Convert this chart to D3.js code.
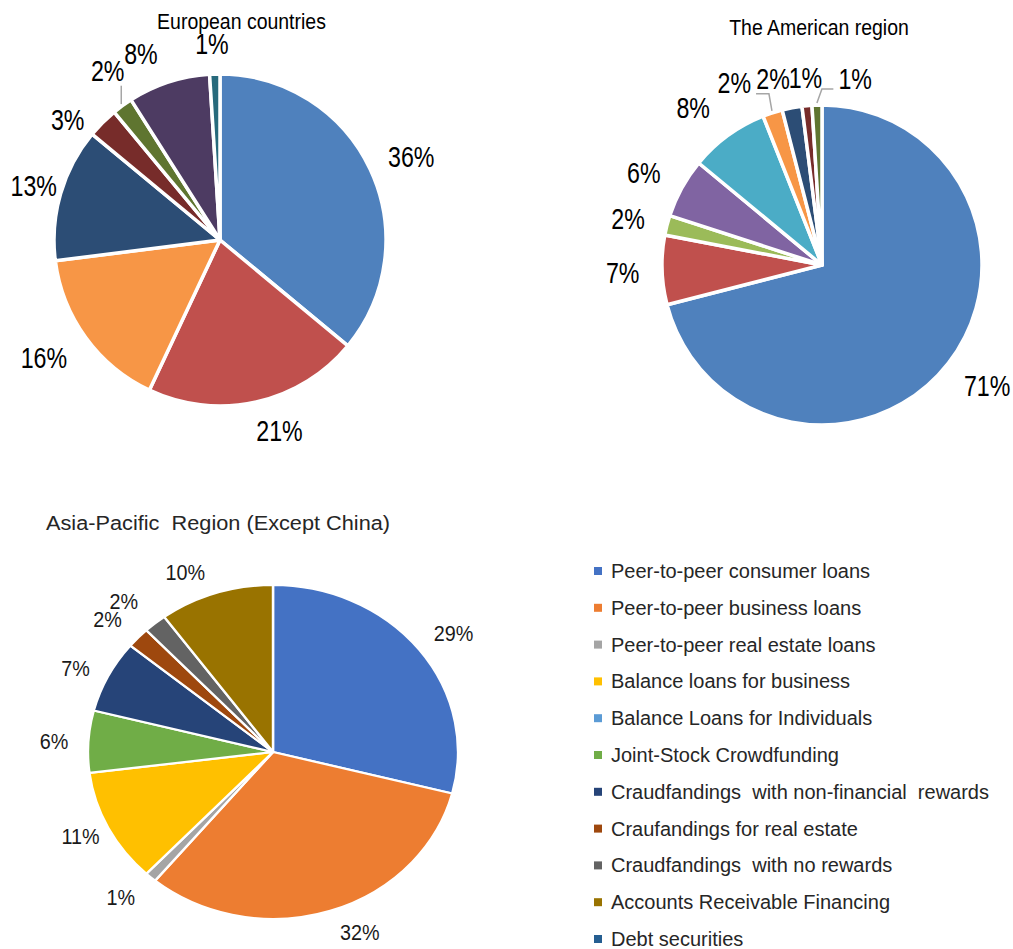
<!DOCTYPE html>
<html>
<head>
<meta charset="utf-8">
<script src="https://cdn.jsdelivr.net/npm/d3@7"></script>
<style>
  html, body { margin: 0; padding: 0; background: #fff; }
  svg { display: block; font-family: "Liberation Sans", Arial, sans-serif; }
</style>
</head>
<body>
<svg id="chart" width="1013" height="949"></svg>
<script>
// ---------------- DATA ----------------
const euTitle = "European countries";
const euValues = [36, 21, 16, 13, 3, 2, 8, 1];
const euColors = ["#4F81BD", "#C0504D", "#F79646", "#2C4D75", "#772C2A", "#5F7530", "#4D3B62", "#276A7C"];

const amTitle = "The American region";
const amValues = [71, 7, 2, 6, 8, 2, 2, 1, 1];
const amColors = ["#4F81BD", "#C0504D", "#9BBB59", "#8064A2", "#4BACC6", "#F79646", "#2C4D75", "#772C2A", "#5F7530"];

const apTitle = "Asia-Pacific  Region (Except China)";
const categories = [
  "Peer-to-peer consumer loans",
  "Peer-to-peer business loans",
  "Peer-to-peer real estate loans",
  "Balance loans for business",
  "Balance Loans for Individuals",
  "Joint-Stock Crowdfunding",
  "Craudfandings  with non-financial  rewards",
  "Craufandings for real estate",
  "Craudfandings  with no rewards",
  "Accounts Receivable Financing",
  "Debt securities"
];
const apValues = [29, 32, 1, 11, 0, 6, 7, 2, 2, 10, 0];
const apColors = ["#4472C4", "#ED7D31", "#A5A5A5", "#FFC000", "#5B9BD5", "#70AD47", "#264478", "#9E480E", "#636363", "#997300", "#255E91"];

// label nudges (manual placement tweaks, like the original chart's dragged labels)
const euNudge = [[11,-4],[16,8.5],[-15,7.5],[5,-2],[-16,12],[1,-18],[-19.5,-8],[-2,-9]];
const amNudge = [[12.5,10],[-12.6,2],[-13,-1],[-14.6,-5.3],[-19,-10.6],[-30,-10],[-14,-8],[1,-7],[39,-5]];
const apNudge = [[10,-5],[20,4],[-13,6],[0,0],[0,0],[-9,0.6],[-10,0],[-12,-6],[-15,-8],[-21,-4],[0,0]];

// ---------------- DRAW ----------------
const svg = d3.select("#chart");
const pie = d3.pie().sort(null).value(d => d);

function drawPie(opts) {
  const { values, colors, nudge, cx, cy, r, sx, stroke, fontSize, labelScale, pad, leaders } = opts;
  const g = svg.append("g");
  const arcs = pie(values);
  const arc = d3.arc().innerRadius(0).outerRadius(r);

  g.append("g")
    .attr("transform", `translate(${cx},${cy}) scale(${sx},1)`)
    .selectAll("path")
    .data(arcs.filter(a => a.value > 0))
    .join("path")
    .attr("d", arc)
    .attr("fill", d => colors[d.index])
    .attr("stroke", "#fff")
    .attr("stroke-width", stroke)
    .attr("stroke-linejoin", "round");

  const h = fontSize * 0.76;
  const labelInfo = [];
  arcs.forEach((a, i) => {
    if (a.value <= 0) return;
    const txt = a.value + "%";
    const w = (String(a.value).length * 0.556 + 0.889) * fontSize * labelScale;
    const m = (a.startAngle + a.endAngle) / 2;
    const s = Math.sin(m), c = Math.cos(m);
    const R = r + pad;
    let x = cx + R * s * sx + s * w / 2 + nudge[i][0];
    let y = cy - R * c - c * h / 2 + nudge[i][1];
    labelInfo[i] = { x, y, w, h, m };
    g.append("text")
      .attr("transform", `translate(${x},${y + fontSize * 0.355}) scale(${labelScale},1)`)
      .attr("text-anchor", "middle")
      .attr("font-size", fontSize)
      .attr("fill", opts.textColor || "#000")
      .text(txt);
  });

  (leaders || []).forEach(L => {
    const li = labelInfo[L.index];
    const ro = r + 2;
    const ax = cx + ro * Math.sin(li.m) * sx;
    const ay = cy - ro * Math.cos(li.m);
    let pts;
    if (L.side === "below") {
      pts = [[ax, li.y + li.h / 2 + 4], [ax, ay]];
    } else if (L.side === "right") {
      const yb = li.y + li.h / 2;
      pts = [[li.x + li.w / 2 + 5, yb], [ax - 3, yb], [ax, ay]];
    } else {
      const yb = li.y + li.h / 2 - 1;
      pts = [[li.x - li.w / 2 - 5, yb], [ax + 5, yb], [ax, ay]];
    }
    g.append("path")
      .attr("d", d3.line()(pts))
      .attr("fill", "none")
      .attr("stroke", "#A6A6A6")
      .attr("stroke-width", 1.5);
  });
  return g;
}

// Titles
svg.append("text")
  .attr("transform", "translate(241.5,29) scale(0.885,1)")
  .attr("text-anchor", "middle").attr("font-size", 22).attr("fill", "#000")
  .text(euTitle);
svg.append("text")
  .attr("transform", "translate(819,35) scale(0.885,1)")
  .attr("text-anchor", "middle").attr("font-size", 22).attr("fill", "#000")
  .text(amTitle);
svg.append("text")
  .attr("transform", "translate(46,530) scale(1.035,1)")
  .attr("font-size", 21).attr("fill", "#262626")
  .style("white-space", "pre")
  .text(apTitle);

drawPie({ values: euValues, colors: euColors, nudge: euNudge, cx: 220, cy: 240, r: 166, sx: 1,
  stroke: 3.5, fontSize: 29, labelScale: 0.8, pad: 10,
  leaders: [{ index: 5, side: "below" }] });

drawPie({ values: amValues, colors: amColors, nudge: amNudge, cx: 822, cy: 265, r: 160, sx: 1,
  stroke: 3.5, fontSize: 29, labelScale: 0.8, pad: 10,
  leaders: [{ index: 5, side: "right" }, { index: 8, side: "left" }] });

drawPie({ values: apValues, colors: apColors, nudge: apNudge, cx: 273, cy: 752, r: 167, sx: 1.108,
  stroke: 2.2, fontSize: 22, labelScale: 0.9, pad: 10, textColor: "#1a1a1a" });

// Legend
const legY = d3.scalePoint().domain(categories).range([571, 939]);
const leg = svg.append("g");
const rows = leg.selectAll("g").data(categories).join("g")
  .attr("transform", d => `translate(594,${legY(d)})`);
rows.append("rect")
  .attr("x", 0).attr("y", -4).attr("width", 8).attr("height", 8)
  .attr("fill", (d, i) => apColors[i]);
rows.append("text")
  .attr("x", 17).attr("y", 7)
  .attr("font-size", 20).attr("fill", "#262626")
  .style("white-space", "pre")
  .text(d => d);
</script>
</body>
</html>
